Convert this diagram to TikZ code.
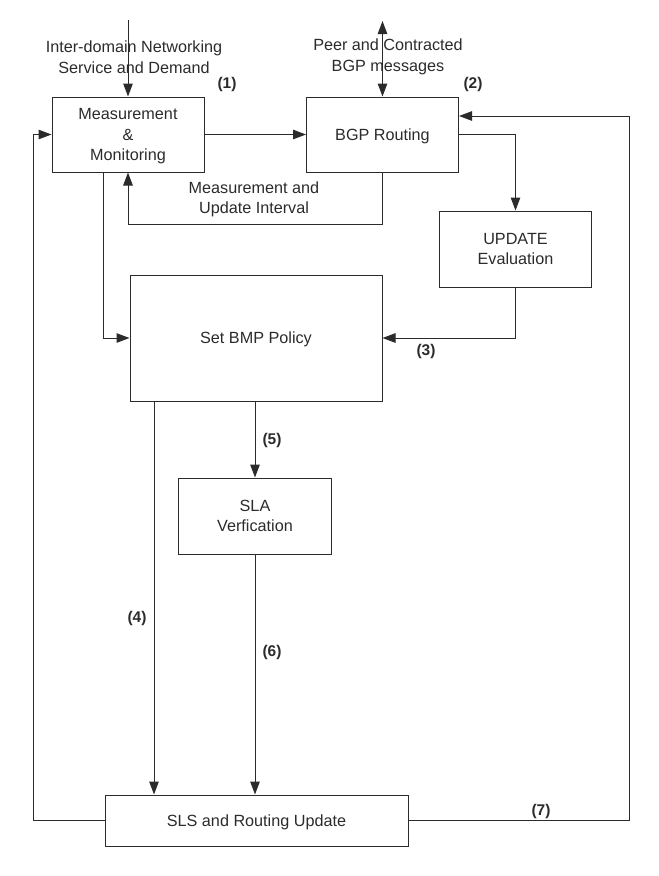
\documentclass[tikz,border=0pt]{standalone}
\usepackage{fontspec}
\setmainfont{Liberation Sans}
\usetikzlibrary{arrows.meta}
\definecolor{inkgray}{HTML}{2B2B2B}
\tikzset{
  stagebox/.style={draw=inkgray,line width=1pt,align=center,text=inkgray,text depth=0pt,font=\fontsize{16.2}{20.5}\selectfont},
  caption/.style={align=center,text=inkgray,font=\fontsize{16.2}{20.5}\selectfont},
  tag/.style={text=inkgray,font=\fontsize{15.5}{17}\selectfont\bfseries},
  flow/.style={draw=inkgray,line width=1pt,-{Triangle[length=13pt,width=9.5pt]}}
}
\begin{document}
\begin{tikzpicture}[x=1pt,y=-1pt]
  \useasboundingbox (0,0) rectangle (659,876);
  \node[stagebox,minimum width=152pt,minimum height=75pt] (measure) at (128,134.5) {Measurement\\\&\\Monitoring};
  \node[stagebox,minimum width=152pt,minimum height=75pt] (bgp) at (382.5,134.5) {BGP Routing};
  \node[stagebox,minimum width=152pt,minimum height=76pt] (update) at (515.5,249) {UPDATE\\Evaluation};
  \node[stagebox,minimum width=252pt,minimum height=126pt] (policy) at (256,338) {Set BMP Policy};
  \node[stagebox,minimum width=153pt,minimum height=76pt] (sla) at (255,516) {SLA\\Verfication};
  \node[stagebox,minimum width=303pt,minimum height=51pt] (sls) at (256.5,820.5) {SLS and Routing Update};
  \coordinate (servicein) at (128,20);
  \coordinate (peerio) at (382.5,21);
  \coordinate (leftrail) at (33,134.5);
  \coordinate (rightrail) at (629,116);
  \draw[flow] (servicein) -- (measure.north);
  \draw[flow,{Triangle[length=13pt,width=9.5pt]}-{Triangle[length=13pt,width=9.5pt]}] (peerio) -- (bgp.north);
  \draw[flow] (measure.east) -- (bgp.west);
  \draw[flow] (bgp.south) -- ++(0,52) -| (measure.south);
  \draw[flow] (bgp.east) -| (update.north);
  \draw[flow] (update.south) |- (policy.east);
  \draw[flow] (measure.south -| 103,0) |- (policy.west);
  \draw[flow] (sla.north |- policy.south) -- (sla.north);
  \draw[flow] (sla.south) -- (sla.south |- sls.north);
  \draw[flow] (policy.south -| 154,0) -- (sls.north -| 154,0);
  \draw[flow] (sls.west) -| (leftrail) -- (measure.west);
  \draw[flow] (sls.east) -| (rightrail) -- (bgp.east |- rightrail);
  \node[caption] (servicetext) at (134,57) {Inter-domain Networking\\Service and Demand};
  \node[caption] (peertext) at (388,57) {Peer and Contracted\\BGP messages};
  \node[caption] (intervaltext) at (254,199.5) {Measurement and\\Update Interval};
  \node[tag] (tagone) at (227,84) {(1)};
  \node[tag] (tagtwo) at (473,84) {(2)};
  \node[tag] (tagthree) at (426,351) {(3)};
  \node[tag] (tagfour) at (137,618) {(4)};
  \node[tag] (tagfive) at (272,440) {(5)};
  \node[tag] (tagsix) at (272,652) {(6)};
  \node[tag] (tagseven) at (541,811) {(7)};
\end{tikzpicture}
\end{document}
